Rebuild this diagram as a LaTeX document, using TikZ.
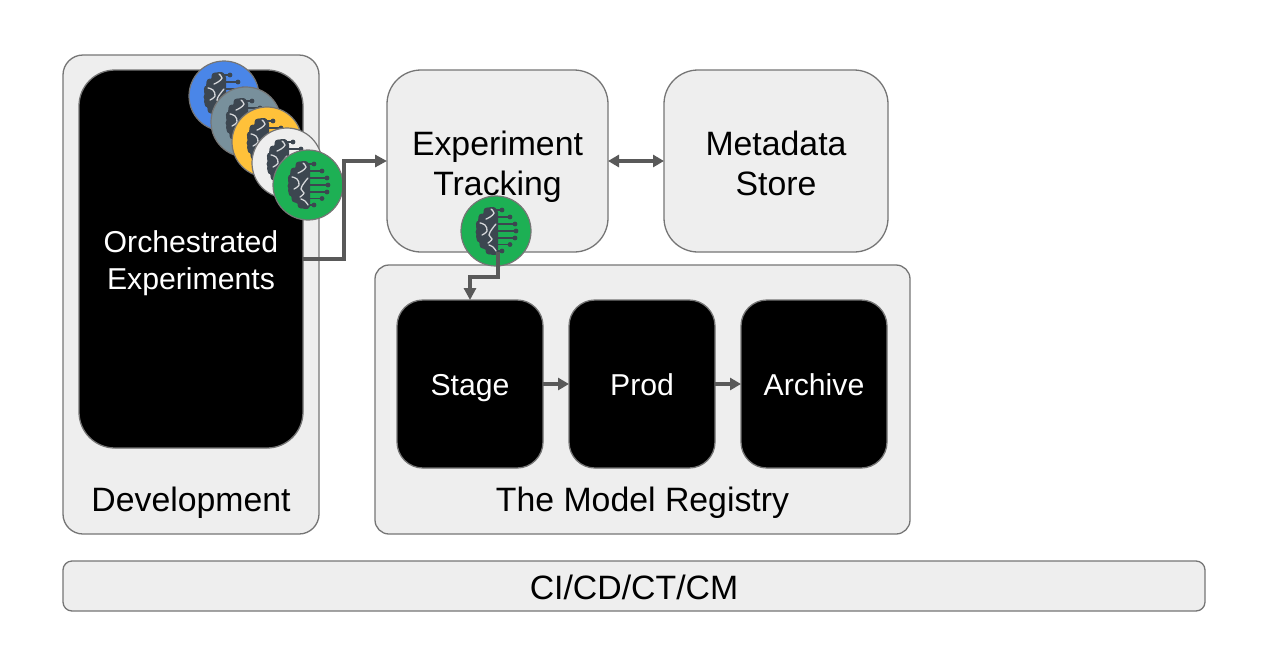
\documentclass[tikz,border=0pt]{standalone}
\usepackage{fontspec}
\setmainfont{Liberation Sans}
\usetikzlibrary{arrows.meta}
\definecolor{boxfill}{HTML}{EEEEEE}
\definecolor{edge}{HTML}{757575}
\definecolor{flow}{HTML}{595959}
\definecolor{brainc}{HTML}{3C4650}
\definecolor{wire}{HTML}{3C4650}
\definecolor{cblue}{HTML}{4A86E8}
\definecolor{cslate}{HTML}{78909C}
\definecolor{cyellow}{HTML}{FFC13A}
\definecolor{cwhite}{HTML}{EEEEEE}
\definecolor{cgreen}{HTML}{1DB054}
\tikzset{
  x=1pt,y=-1pt,
  panel/.style={draw=edge,line width=1.3pt,fill=boxfill,inner sep=0pt,outer sep=0pt,align=center,text=black},
  blackbox/.style={panel,fill=black,text=white},
  bigtxt/.style={font=\fontsize{33.8}{40}\selectfont,align=center,inner sep=0pt,text=black,text height=27.5pt,text depth=0pt},
  bigtwo/.style={bigtxt,text height=69.5pt},
  midtxt/.style={font=\fontsize{30.2}{37}\selectfont,align=center,inner sep=0pt,text height=23pt,text depth=0pt},
  midtwo/.style={midtxt,text height=60pt},
  orb/.style={circle,draw=edge,line width=1.2pt,minimum size=70pt,inner sep=0pt,outer sep=0pt},
  flowline/.style={draw=flow,line width=4pt,-{Triangle[length=12pt,width=12pt]}},
  twoway/.style={draw=flow,line width=3.4pt,{Triangle[length=11pt,width=12pt]}-{Triangle[length=11pt,width=12pt]}},
  stepline/.style={draw=flow,line width=3.2pt,-{Triangle[length=11pt,width=12pt]}},
  brainwig/.style={draw=white!78!brainc,line width=1.3pt,line cap=round},
  brainpic/.pic={
    \foreach \a/\b in {-21/6,-14/14,-7/19,0/20,7/19,13.5/14,20/6}{
      \draw[wire,line width=1.6pt] (0,\a) -- (\b,\a);
      \fill[wire] (\b,\a) circle (2.4pt);
    }
    \fill[brainc] plot[smooth cycle,tension=0.55] coordinates {(-5,-24) (-1,-23) (2,-18) (2,0) (2,18) (1,23) (-3,24) (-7,23) (-10,19) (-15,16) (-17,11) (-20,6) (-19,1) (-20,-5) (-18,-10) (-17,-15) (-13,-17) (-11,-22)};
    \foreach \p/\r in {{-3,-20.5}/3.5,{-9,-20}/3.5,{-14,-14}/3.5,{-16.5,-7}/3.7,{-17,1}/3.5,{-16,8}/3.5,{-13,14}/3.5,{-7,20}/3.5,{-2,20.5}/3.5}
      \fill[brainc] (\p) circle (\r pt);
    \draw[brainwig] plot[smooth,tension=0.7] coordinates {(-5,-22) (-2,-18) (-6,-14) (-10,-12)};
    \draw[brainwig] plot[smooth,tension=0.7] coordinates {(-16,-8) (-11,-6) (-9,0) (-14,4)};
    \draw[brainwig] plot[smooth,tension=0.7] coordinates {(0,-7) (-4,-2) (-7,4) (-4,8) (-8,12)};
    \draw[brainwig] plot[smooth,tension=0.7] coordinates {(-7,14) (-3,16) (0,20)};
  }
}
\begin{document}
\begin{tikzpicture}
\useasboundingbox (0,0) rectangle (1261,670);
\fill[white] (0,0) rectangle (1261,670);
% panels
\node[panel,minimum width=256pt,minimum height=479pt,rounded corners=20pt] (dev) at (191,294.5) {};
\node[blackbox,minimum width=224pt,minimum height=378pt,rounded corners=36pt,midtwo] (orch) at (191,259) {Orchestrated\\Experiments};
\node[bigtxt] (devlabel) at (191,497.5) {Development};
\node[panel,minimum width=221pt,minimum height=182pt,rounded corners=34pt,bigtwo] (exp) at (497.5,161) {Experiment\\Tracking};
\node[panel,minimum width=224pt,minimum height=182pt,rounded corners=34pt,bigtwo] (meta) at (776,161) {Metadata\\Store};
\node[panel,minimum width=535pt,minimum height=269pt,rounded corners=14pt] (reg) at (642.5,399.5) {};
\node[blackbox,minimum width=146pt,minimum height=168pt,rounded corners=26pt,midtxt] (stage) at (470,384) {Stage};
\node[blackbox,minimum width=146pt,minimum height=168pt,rounded corners=26pt,midtxt] (prod) at (642,384) {Prod};
\node[blackbox,minimum width=146pt,minimum height=168pt,rounded corners=26pt,midtxt] (arch) at (814,384) {Archive};
\node[bigtxt] (reglabel) at (642.5,497.5) {The Model Registry};
\node[panel,minimum width=1142pt,minimum height=50pt,rounded corners=9pt,bigtxt] (ci) at (634,586) {CI/CD/CT/CM};
% orbs
\node[orb,fill=cblue] (o1) at (224,96) {};
\pic at (o1) {brainpic};
\node[orb,fill=cslate] (o2) at (246,122) {};
\pic at (o2) {brainpic};
\node[orb,fill=cyellow] (o3) at (267,142) {};
\pic at (o3) {brainpic};
\node[orb,fill=cwhite] (o4) at (287,163) {};
\pic at (o4) {brainpic};
\node[orb,fill=cgreen] (o5) at (308,185) {};
\pic at (o5) {brainpic};
\node[orb,fill=cgreen] (o6) at (496,231) {};
\pic at (o6) {brainpic};
% connectors
\draw[flowline] (orch.east) -- ++(41,0) |- (exp.west);
\draw[twoway] (exp.east) -- (meta.west);
\draw[flowline] (exp.south) -- ++(0,25) -| (stage.north);
\draw[stepline] (stage.east) -- (prod.west);
\draw[stepline] (prod.east) -- (arch.west);
\end{tikzpicture}
\end{document}
